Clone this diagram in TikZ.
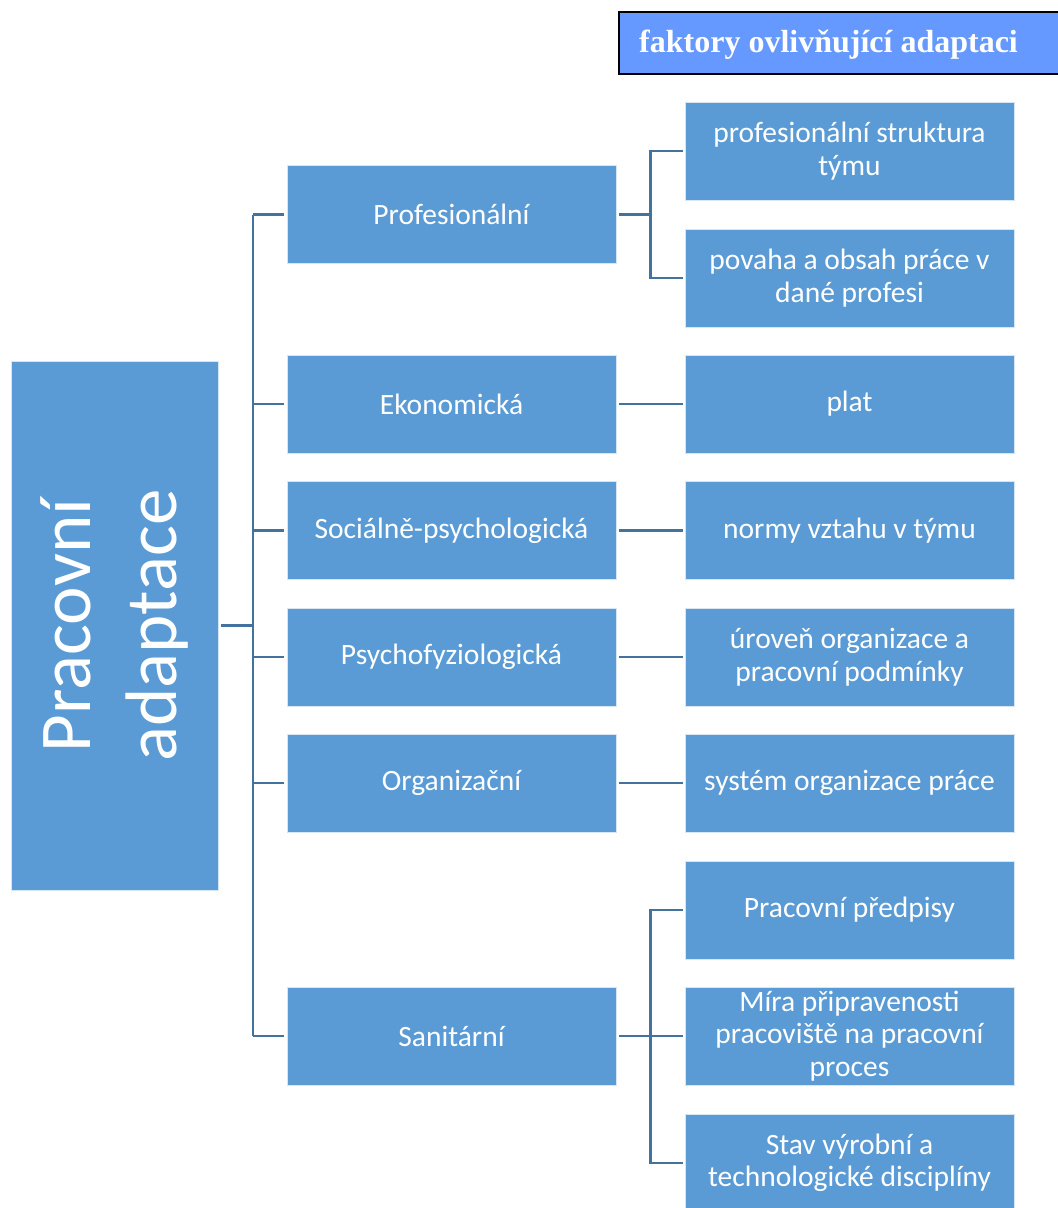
\documentclass[tikz,border=0pt]{standalone}
\usepackage{fontspec}
\setmainfont{Carlito}
\newfontfamily\titlefont{Liberation Serif}
\definecolor{boxblue}{HTML}{5B9BD5}
\definecolor{linkblue}{HTML}{44729F}
\definecolor{titleblue}{HTML}{6699FF}
\begin{document}
\begin{tikzpicture}[x=1pt,y=-1pt,
  box/.style={fill=boxblue,draw=white!75!boxblue,line width=0.8pt,minimum width=329pt,minimum height=98pt,
    text=white,align=center,font=\fontsize{29.5}{32.5}\selectfont,inner sep=2pt},
  conn/.style={draw=linkblue,line width=2.8pt}]
\useasboundingbox (0,0) rectangle (1058,1208);
\clip (0,0) rectangle (1058,1208);
% title
\node[draw=black,line width=1.5pt,fill=titleblue,minimum width=446pt,minimum height=62pt,anchor=north west,inner sep=0pt] (titlebox) at (618,11) {};
\node[anchor=base west,text=white,font=\titlefont\bfseries\fontsize{32}{36}\selectfont,inner sep=0pt] (title) at (639,52) {faktory ovlivňující adaptaci};
% root
\node[fill=boxblue,draw=white!75!boxblue,line width=0.8pt,minimum width=207pt,minimum height=529pt,inner sep=0pt] (root) at (114.5,625.5) {};
\node[rotate=90,text=white,align=center,font=\fontsize{73}{86}\selectfont] (roottext) at (root.center) {Pracovní\\adaptace};
% level 1
\node[box] (prof) at (451.5,214.5) {Profesionální};
\node[box] (ekon) at (451.5,404) {Ekonomická};
\node[box] (soc) at (451.5,530.5) {Sociálně-psychologická};
\node[box] (psy) at (451.5,657) {Psychofyziologická};
\node[box] (org) at (451.5,783) {Organizační};
\node[box] (san) at (451.5,1036) {Sanitární};
% level 2
\node[box] (pst) at (849.5,151) {profesionální struktura\\týmu};
\node[box] (pov) at (849.5,278) {povaha a obsah práce v\\dané profesi};
\node[box] (plat) at (849.5,404) {plat};
\node[box] (norm) at (849.5,530.5) {normy vztahu v týmu};
\node[box] (urov) at (849.5,657) {úroveň organizace a\\pracovní podmínky};
\node[box] (sys) at (849.5,783) {systém organizace práce};
\node[box] (pred) at (849.5,910) {Pracovní předpisy};
\node[box] (mira) at (849.5,1036) {Míra připravenosti\\pracoviště na pracovní\\proces};
\node[box] (stav) at (849.5,1163) {Stav výrobní a\\technologické disciplíny};
% connectors
\coordinate (T) at (253,0);
\coordinate (TA) at (650.5,0);
\draw[conn] ([xshift=3pt]root.east) -- (T |- root.east);
\draw[conn] (T |- prof.west) -- (T |- san.west);
\foreach \n in {prof,ekon,soc,psy,org,san}{
  \draw[conn] (T |- \n.west) -- ([xshift=-3pt]\n.west);
}
\draw[conn] ([xshift=3pt]prof.east) -- (TA |- prof.east);
\draw[conn] ([xshift=-2pt]pst.west) -| (TA |- pov.west) -- ([xshift=-2pt]pov.west);
\draw[conn] ([xshift=3pt]ekon.east) -- ([xshift=-2pt]plat.west);
\draw[conn] ([xshift=3pt]soc.east) -- ([xshift=-2pt]norm.west);
\draw[conn] ([xshift=3pt]psy.east) -- ([xshift=-2pt]urov.west);
\draw[conn] ([xshift=3pt]org.east) -- ([xshift=-2pt]sys.west);
\draw[conn] ([xshift=3pt]san.east) -- ([xshift=-2pt]mira.west);
\draw[conn] ([xshift=-2pt]pred.west) -| (TA |- stav.west) -- ([xshift=-2pt]stav.west);
\end{tikzpicture}
\end{document}
